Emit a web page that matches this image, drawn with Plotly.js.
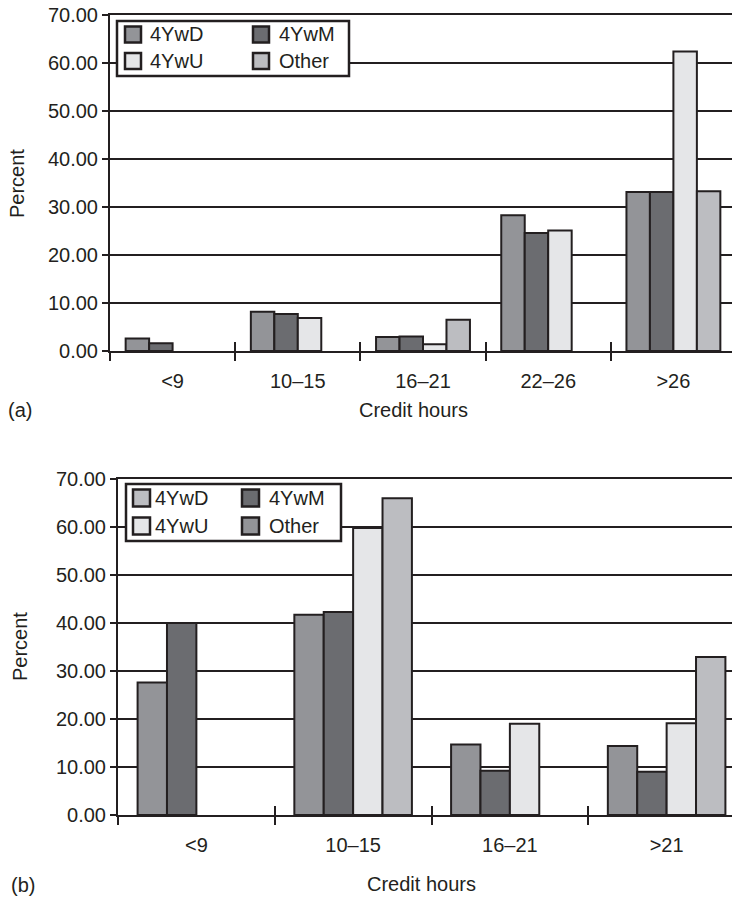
<!DOCTYPE html>
<html>
<head>
<meta charset="utf-8">
<script src="https://cdn.plot.ly/plotly-3.0.1.min.js"></script>
<style>
html, body { margin: 0; padding: 0; overflow: hidden; background: #fff; }
#chart { width: 760px; height: 898px; }
</style>
</head>
<body>
<div id="chart"></div>
<script>
// ---- data (a) ---- (null = no bar shown)
const catsA = ['<9', '10–15', '16–21', '22–26', '>26'];
const a4YwD = [2.6, 8.2, 2.9, 28.3, 33.1];
const a4YwM = [1.6, 7.7, 3.0, 24.6, 33.1];
const a4YwU = [null, 6.9, 1.4, 25.1, 62.4];
const aOther = [null, null, 6.5, null, 33.3];

// ---- data (b) ----
const catsB = ['<9', '10–15', '16–21', '>21'];
const b4YwD = [27.6, 41.7, 14.7, 14.4];
const b4YwM = [40.0, 42.3, 9.2, 9.0];
const b4YwU = [null, 59.8, 19.0, 19.1];
const bOther = [null, 66.0, null, 32.9];

const seriesNames = ['4YwD', '4YwM', '4YwU', 'Other'];
const seriesColors = ['#939498', '#6b6c70', '#e5e6e8', '#bcbdc1'];
// legend swatch colours as printed in panel (b)
const legendColorsB = ['#bcbdc1', '#6b6c70', '#e5e6e8', '#939498'];

const INK = '#231f20';
const FONT = '"Liberation Sans", Arial, Helvetica, sans-serif';
const W = 760, H = 898;
const px = x => x / W;
const py = y => 1 - y / H;

const dataA = [a4YwD, a4YwM, a4YwU, aOther];
const dataB = [b4YwD, b4YwM, b4YwU, bOther];

const traces = [];
seriesNames.forEach((n, i) => {
  traces.push({
    type: 'bar', name: n, x: catsA, y: dataA[i], xaxis: 'x', yaxis: 'y',
    marker: { color: seriesColors[i], line: { color: INK, width: 2 } },
    showlegend: false, hoverinfo: 'x+y+name'
  });
});
seriesNames.forEach((n, i) => {
  traces.push({
    type: 'bar', name: n, x: catsB, y: dataB[i], xaxis: 'x2', yaxis: 'y2',
    marker: { color: seriesColors[i], line: { color: INK, width: 2 } },
    showlegend: false, hoverinfo: 'x+y+name'
  });
});
// empty helper traces so the tick-crossing overlay axes get drawn
traces.push({ type: 'scatter', x: [], y: [], xaxis: 'x3', yaxis: 'y', showlegend: false, hoverinfo: 'skip' });
traces.push({ type: 'scatter', x: [], y: [], xaxis: 'x4', yaxis: 'y2', showlegend: false, hoverinfo: 'skip' });

function yAxis(domain) {
  return {
    domain: domain, range: [0, 70], dtick: 10, tick0: 0, tickformat: '.2f',
    showgrid: true, gridcolor: INK, gridwidth: 2,
    showline: true, linecolor: INK, linewidth: 2, mirror: true,
    ticks: 'outside', ticklen: 6, tickwidth: 2, tickcolor: INK,
    zeroline: false, fixedrange: true,
    tickfont: { family: FONT, size: 20, color: INK }
  };
}
function xAxis(domain, cats, anchor) {
  return {
    domain: domain, anchor: anchor, type: 'category', categoryorder: 'array',
    categoryarray: cats, range: [-0.5, cats.length - 0.5],
    tickson: 'boundaries', ticks: 'outside', ticklen: 8, tickwidth: 2, tickcolor: INK,
    showline: true, linecolor: INK, linewidth: 2, mirror: true,
    showgrid: false, zeroline: false, fixedrange: true,
    ticklabelstandoff: 11,
    tickfont: { family: FONT, size: 20, color: INK }
  };
}
function crossAxis(over, anchor, cats, domain) {
  const b = [];
  for (let i = 0; i <= cats.length; i++) b.push(i - 0.5);
  return {
    overlaying: over, anchor: anchor, domain: domain, type: 'linear',
    range: [-0.5, cats.length - 0.5],
    tickmode: 'array', tickvals: b, showticklabels: false,
    ticks: 'inside', ticklen: 9, tickwidth: 2, tickcolor: INK,
    showgrid: false, zeroline: false, showline: false, fixedrange: true
  };
}

const domXA = [px(110), px(736)], domYA = [py(351), py(15)];
const domXB = [px(118), px(745)], domYB = [py(815), py(479)];

const shapes = [];
const annotations = [];

function legend(box, rows, cols, sw, colors) {
  shapes.push({ type: 'rect', xref: 'paper', yref: 'paper',
    x0: px(box[0]), x1: px(box[1]), y0: py(box[3]), y1: py(box[2]),
    fillcolor: '#ffffff', line: { color: INK, width: 2.5 }, layer: 'above' });
  seriesNames.forEach((n, i) => {
    const r = Math.floor(i / 2), c = i % 2;
    const cy = rows[r];
    shapes.push({ type: 'rect', xref: 'paper', yref: 'paper',
      x0: px(cols[c][0]), x1: px(cols[c][0] + sw), y0: py(cy + sw / 2), y1: py(cy - sw / 2),
      fillcolor: colors[i], line: { color: INK, width: 2.5 }, layer: 'above' });
    annotations.push({ xref: 'paper', yref: 'paper', x: px(cols[c][1]), y: py(cy),
      xanchor: 'left', yanchor: 'middle', showarrow: false, text: n,
      font: { family: FONT, size: 20, color: INK } });
  });
}
legend([117, 349, 21, 76], [34.5, 61], [[125, 148], [253, 277]], 16, seriesColors);
legend([126, 341, 484, 541], [498, 526], [[133, 153], [242, 267]], 17, legendColorsB);

function label(text, x, y, angle) {
  annotations.push({ xref: 'paper', yref: 'paper', x: px(x), y: py(y),
    xanchor: 'center', yanchor: 'middle', showarrow: false, text: text,
    textangle: angle || 0, font: { family: FONT, size: 20, color: INK } });
}
label('Percent', 17, 184, -90);
label('Percent', 20, 647, -90);
label('Credit hours', 413, 410);
label('Credit hours', 422, 884);
label('(a)', 20, 410);
label('(b)', 23, 885);

const layout = {
  width: W, height: H,
  margin: { l: 0, r: 0, t: 0, b: 0, pad: 0 },
  paper_bgcolor: '#ffffff', plot_bgcolor: '#ffffff',
  barmode: 'group', bargap: 0.25, bargroupgap: 0,
  showlegend: false,
  font: { family: FONT, size: 20, color: INK },
  xaxis: xAxis(domXA, catsA, 'y'),
  yaxis: Object.assign(yAxis(domYA), { anchor: 'x' }),
  xaxis2: xAxis(domXB, catsB, 'y2'),
  yaxis2: Object.assign(yAxis(domYB), { anchor: 'x2' }),
  xaxis3: crossAxis('x', 'y', catsA, domXA),
  xaxis4: crossAxis('x2', 'y2', catsB, domXB),
  shapes: shapes,
  annotations: annotations
};

Plotly.newPlot('chart', traces, layout, { displayModeBar: false, staticPlot: true });
</script>
</body>
</html>
